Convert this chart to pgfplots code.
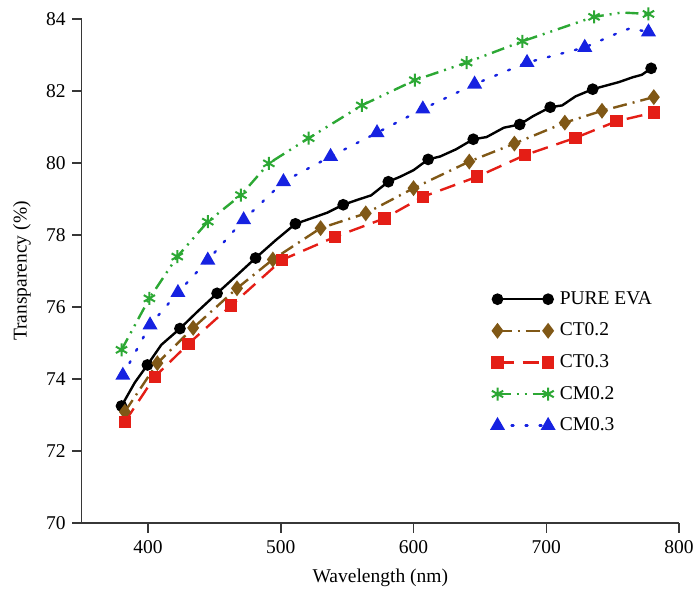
\documentclass[border=0pt]{standalone}
\usepackage{fontspec}
\setmainfont{Liberation Serif}
\usepackage{pgfplots}
\usepackage{pgfplotstable}
\pgfplotsset{compat=1.18}
\definecolor{evabrown}{RGB}{128,88,22}
\definecolor{evared}{RGB}{228,30,22}
\definecolor{evagreen}{RGB}{44,168,52}
\definecolor{evablue}{RGB}{22,34,225}
\definecolor{axgray}{RGB}{55,55,55}

% PURE EVA line (noisy trace)
\pgfplotstableread{
wl val
380 73.25
390 73.90
399.5 74.39
410 74.95
424 75.40
438 75.90
452 76.38
466 76.85
481 77.36
496 77.85
511 78.31
522 78.45
535 78.62
547 78.84
558 78.98
568 79.10
581 79.48
590 79.62
600 79.80
611 80.10
620 80.18
632 80.38
645 80.66
655 80.72
668 80.98
680 81.07
690 81.30
703 81.55
712 81.60
722 81.85
735 82.05
745 82.15
755 82.25
765 82.38
772 82.45
779 82.63
}\evaline
\pgfplotstableread{
wl val
380 73.25
399.5 74.39
424 75.40
452 76.38
481 77.36
511 78.31
547 78.84
581 79.48
611 80.10
645 80.66
680 81.07
703 81.55
735 82.05
779 82.63
}\evamarks
\pgfplotstableread{
wl val
382.5 73.09
407 74.44
434 75.42
467 76.52
494 77.32
530 78.19
564 78.60
600 79.30
642 80.04
676 80.54
714 81.12
742 81.45
781 81.83
}\cta
\pgfplotstableread{
wl val
382.5 72.81
405 74.06
430.5 74.98
462.5 76.04
501 77.31
541 77.95
578 78.46
607 79.06
648 79.62
684 80.22
722 80.70
753 81.16
781 81.40
}\ctb
\pgfplotstableread{
wl val
380 74.81
401 76.24
422 77.40
445 78.37
470 79.11
491 79.99
521 80.69
561 81.60
601 82.30
640 82.79
682 83.38
736 84.06
757 84.18
777 84.14
}\cmaline
\pgfplotstableread{
wl val
380 74.81
401 76.24
422 77.40
445 78.37
470 79.11
491 79.99
521 80.69
561 81.60
601 82.30
640 82.79
682 83.38
736 84.06
777 84.14
}\cmamarks
\pgfplotstableread{
wl val
381 74.10
401.5 75.50
422.5 76.40
445 77.30
472 78.42
502 79.48
537.5 80.18
572.5 80.84
607 81.50
646 82.19
685.5 82.79
729 83.21
752 83.58
763 83.74
777 83.64
}\cmbline
\pgfplotstableread{
wl val
381 74.10
401.5 75.50
422.5 76.40
445 77.30
472 78.42
502 79.48
537.5 80.18
572.5 80.84
607 81.50
646 82.19
685.5 82.79
729 83.21
777 83.64
}\cmbmarks

\pgfplotsset{
  evaS/.style={black, line width=2.4pt, solid},
  evaM/.style={mark=*, mark size=4.6pt, mark options={solid, fill=black}},
  ctaS/.style={evabrown, line width=2.4pt, dash pattern=on 14pt off 6pt on 2pt off 6pt},
  ctaM/.style={mark=diamond*, mark size=6pt, mark options={solid, fill=evabrown}},
  ctbS/.style={evared, line width=2.4pt, dash pattern=on 16pt off 9pt},
  ctbM/.style={mark=square*, mark size=5pt, mark options={solid, fill=evared}},
  cmaS/.style={evagreen, line width=2.4pt, dash pattern=on 13pt off 6pt on 2pt off 6pt on 2pt off 6pt},
  cmaM/.style={mark=asterisk, mark size=6.5pt, mark options={solid, line width=2pt}},
  cmbS/.style={evablue, line width=2.4pt, line cap=round, dash pattern=on 2pt off 12pt},
  cmbM/.style={mark=triangle*, mark size=6.3pt, mark options={solid, fill=evablue}},
}

\begin{document}
\begin{tikzpicture}
\begin{axis}[
  scale only axis, width=597.3pt, height=504pt,
  xmin=350, xmax=800, ymin=70, ymax=84,
  axis x line*=bottom, axis y line*=left,
  axis line style={line width=1.6pt, color=axgray},
  tick style={line width=1.4pt, color=axgray},
  tick align=outside, major tick length=9.5pt,
  xtick={400,500,600,700,800}, ytick={70,72,...,84},
  minor tick num=0,
  /pgf/number format/assume math mode=true,
  /pgf/number format/1000 sep={},
  tick label style={font=\fontsize{19.5}{22}\selectfont, text=black},
  xticklabel style={yshift=-4pt},
  yticklabel style={xshift=-3pt},
  xlabel={Wavelength (nm)}, ylabel={Transparency (\%)},
  every axis x label/.style={at={(axis description cs:0.5,-0.109)}, anchor=center,
    font=\fontsize{19.5}{22}\selectfont},
  every axis y label/.style={at={(axis description cs:-0.1,0.5)}, rotate=90, anchor=center,
    font=\fontsize{19.5}{22}\selectfont},
  clip=false,
  legend image code/.code={
    \draw[#1] (0pt,0pt) -- (50.6pt,0pt);
    \draw[#1, only marks] plot coordinates {(0pt,0pt) (50.6pt,0pt)};
  },
  legend style={at={(axis description cs:0.6864,0.4623)}, anchor=north west,
    draw=none, fill=none, inner sep=0pt, row sep=13.6pt,
    font=\fontsize{19.5}{22}\selectfont,
    nodes={inner sep=0pt, text height=14pt, text depth=4pt}},
  legend cell align=left,
]
\addplot[evaS, forget plot] table[x=wl, y=val] {\evaline};
\addplot[evaS, evaM, only marks, forget plot] table[x=wl, y=val] {\evamarks};
\addplot[ctaS, forget plot] table[x=wl, y=val] {\cta};
\addplot[ctaS, ctaM, only marks, forget plot] table[x=wl, y=val] {\cta};
\addplot[ctbS, forget plot] table[x=wl, y=val] {\ctb};
\addplot[ctbS, ctbM, only marks, forget plot] table[x=wl, y=val] {\ctb};
\addplot[cmaS, forget plot] table[x=wl, y=val] {\cmaline};
\addplot[cmaS, cmaM, only marks, forget plot] table[x=wl, y=val] {\cmamarks};
\addplot[cmbS, forget plot] table[x=wl, y=val] {\cmbline};
\addplot[cmbS, cmbM, only marks, forget plot] table[x=wl, y=val] {\cmbmarks};
\addlegendimage{evaS, evaM}
\addlegendentry{\kern6pt PURE EVA}
\addlegendimage{ctaS, ctaM}
\addlegendentry{\kern6pt CT0.2}
\addlegendimage{ctbS, ctbM}
\addlegendentry{\kern6pt CT0.3}
\addlegendimage{cmaS, cmaM}
\addlegendentry{\kern6pt CM0.2}
\addlegendimage{cmbS, cmbM}
\addlegendentry{\kern6pt CM0.3}
\coordinate (ll) at (rel axis cs:0,0);
\coordinate (ur) at (rel axis cs:1,1);
\end{axis}
\pgfresetboundingbox
\path ([xshift=-81.7pt,yshift=-71pt]ll) rectangle ([xshift=19pt,yshift=19pt]ur);
\end{tikzpicture}
\end{document}
